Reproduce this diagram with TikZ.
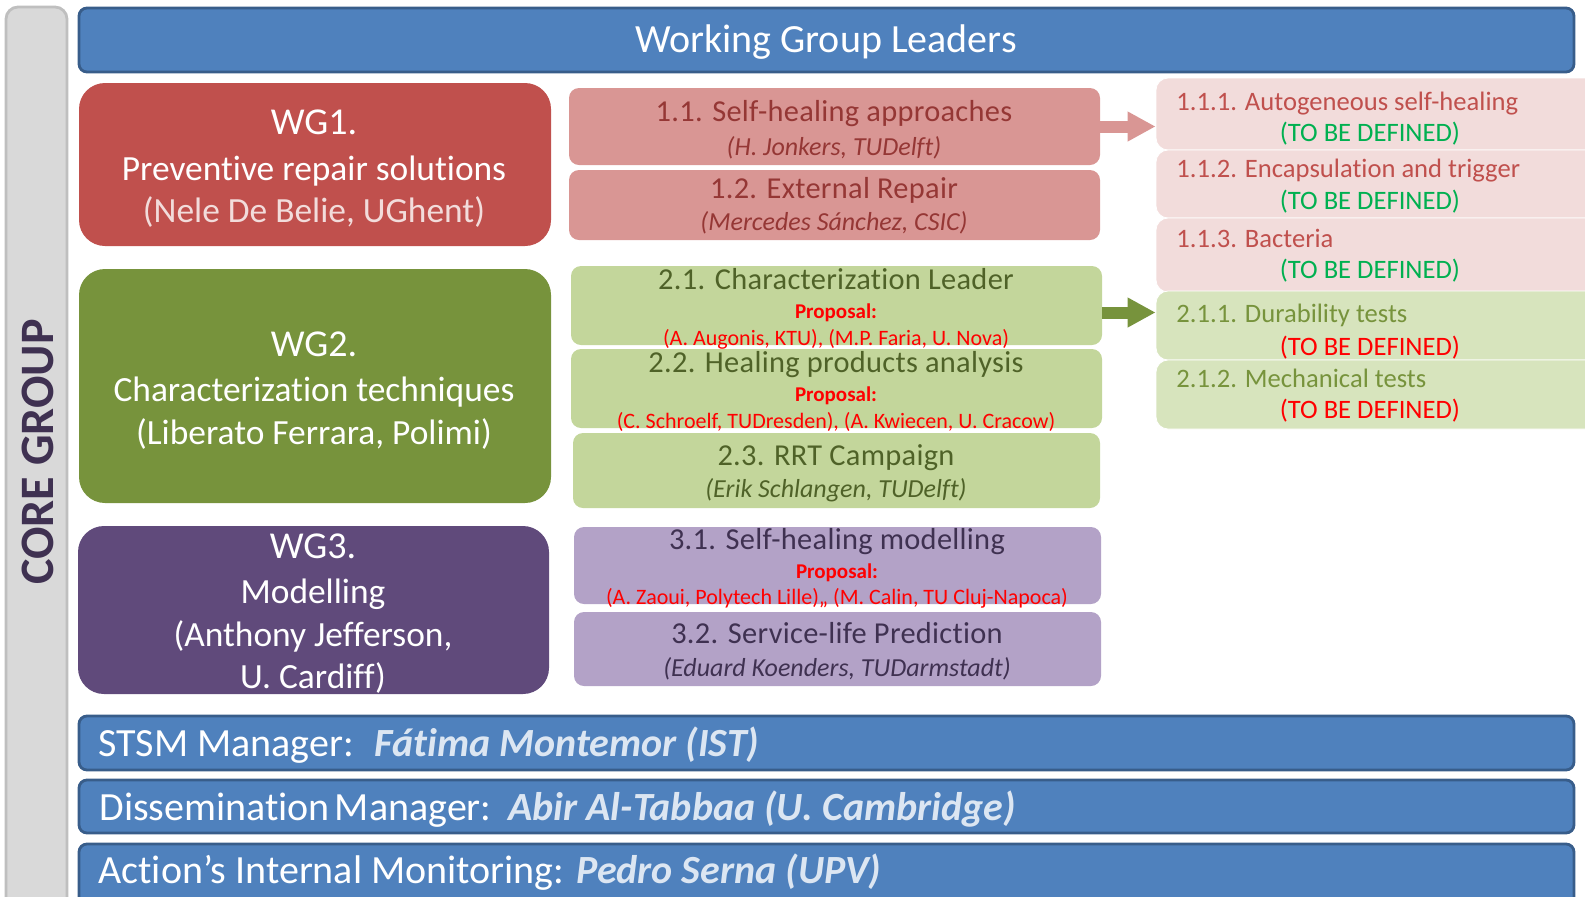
\documentclass[tikz,border=0pt]{standalone}
\usepackage{fontspec}
\setmainfont[Ligatures=NoCommon]{Carlito}
\usetikzlibrary{arrows.meta,fit}
\definecolor{barblue}{HTML}{4F81BD}
\definecolor{barborder}{HTML}{385D8A}
\definecolor{coregrey}{HTML}{D9D9D9}
\definecolor{coreborder}{HTML}{BFBFBF}
\definecolor{corefont}{HTML}{3F3151}
\definecolor{wgred}{HTML}{C0504D}
\definecolor{wggreen}{HTML}{77933C}
\definecolor{wgpurple}{HTML}{604A7B}
\definecolor{subred}{HTML}{D99694}
\definecolor{subgreen}{HTML}{C3D69B}
\definecolor{subpurple}{HTML}{B3A2C7}
\definecolor{txred}{HTML}{953735}
\definecolor{txgreen}{HTML}{4F6228}
\definecolor{txpurple}{HTML}{3F3151}
\definecolor{rpink}{HTML}{F2DCDB}
\definecolor{rgreen}{HTML}{D7E4BD}
\definecolor{rtxred}{HTML}{C0504D}
\definecolor{rtxgreen}{HTML}{77933C}
\definecolor{tbdgreen}{HTML}{00B050}
\definecolor{tbdred}{HTML}{FF0000}
\definecolor{lightname}{HTML}{DCE6F2}
\tikzset{
  bar/.style={draw=barborder, fill=barblue, line width=1.4pt, rounded corners=4pt, inner sep=0pt},
  corebox/.style={draw=coreborder, fill=coregrey, line width=1.4pt, rounded corners=6pt, inner sep=0pt},
  wgbox/.style={rounded corners=13pt, inner sep=0pt},
  subbox/.style={rounded corners=5pt, inner sep=0pt},
  rbox/.style={rounded corners=6pt, inner sep=0pt, draw=white, line width=0.4pt},
  t/.style={inner sep=0pt, anchor=base},
  tw/.style={inner sep=0pt, anchor=base west},
  big/.style={font=\fontsize{20}{24}\selectfont},
  wgtext/.style={font=\fontsize{17.7}{21}\selectfont, text=white},
  wghead/.style={font=\fontsize{19}{22}\selectfont, text=white},
  subtitle/.style={font=\fontsize{15.2}{18}\selectfont\addfontfeature{LetterSpace=1}},
  subname/.style={font=\fontsize{13}{15}\selectfont\itshape},
  prop/.style={font=\fontsize{10.5}{12}\selectfont\bfseries, text=tbdred},
  propnames/.style={font=\fontsize{11}{12}\selectfont, text=tbdred},
  rtext/.style={font=\fontsize{13.3}{15}\selectfont},
  bartext/.style={font=\fontsize{20}{24}\selectfont, text=white},
  barname/.style={font=\fontsize{20}{24}\selectfont\bfseries\itshape, text=lightname},
  blockarrow/.style={line width=6pt, -{Triangle[width=14pt,length=14pt]}},
}
\begin{document}
\begin{tikzpicture}[x=0.5pt,y=-0.5pt]
\useasboundingbox (0,0) rectangle (1585,896);
\clip (0,0) rectangle (1585,896);

% core group
\node[corebox, fit={(6,7)(67,910)}] (core) {};
\node[rotate=90, inner sep=0pt, font=\fontsize{24}{28}\selectfont\bfseries, text=corefont] (coretxt) at (38,452) {CORE GROUP};

% top bar
\node[bar, fit={(79,8)(1574,72)}] (wgl) {};
\node[t, big, text=white] (wgltxt) at (826,52) {Working Group Leaders};

% WG boxes
\node[wgbox, fill=wgred, fit={(79,83)(551,246)}] (wg1) {};
\node[t, wghead] (wg1a) at (314,134) {WG1.};
\node[t, wgtext] (wg1b) at (314,180) {Preventive repair solutions};
\node[t, wgtext, text=rpink] (wg1c) at (314,222) {(Nele De Belie, UGhent)};

\node[wgbox, fill=wggreen, fit={(79,269)(551,503)}] (wg2) {};
\node[t, wghead] (wg2a) at (314,356) {WG2.};
\node[t, wgtext] (wg2b) at (314,401) {Characterization techniques};
\node[t, wgtext] (wg2c) at (314,444) {(Liberato Ferrara, Polimi)};

\node[wgbox, fill=wgpurple, fit={(78,526)(549,694)}] (wg3) {};
\node[t, wghead] (wg3a) at (313,558) {WG3.};
\node[t, wgtext] (wg3b) at (313,603) {Modelling};
\node[t, wgtext] (wg3c) at (313,646) {(Anthony Jefferson,};
\node[t, wgtext] (wg3d) at (313,688) {U. Cardiff)};

% sub boxes WG1
\node[subbox, fill=subred, fit={(569,88)(1100,165)}] (s11) {};
\node[t, subtitle, text=txred] (s11a) at (834,121) {1.1. Self-healing approaches};
\node[t, subname, text=txred] (s11b) at (834,155) {(H. Jonkers, TUDelft)};
\node[subbox, fill=subred, fit={(569,170)(1100,240)}] (s12) {};
\node[t, subtitle, text=txred] (s12a) at (834,198) {1.2. External Repair};
\node[t, subname, text=txred] (s12b) at (834,230) {(Mercedes Sánchez, CSIC)};

% sub boxes WG2
\node[subbox, fill=subgreen, fit={(571,266)(1102,345)}] (s21) {};
\node[t, subtitle, text=txgreen] (s21a) at (836,289) {2.1. Characterization Leader};
\node[t, prop] (s21b) at (836,318) {Proposal:};
\node[t, propnames] (s21c) at (836,345) {(A. Augonis, KTU), (M.P. Faria, U. Nova)};
\node[subbox, fill=subgreen, fit={(571,349)(1102,428)}] (s22) {};
\node[t, subtitle, text=txgreen] (s22a) at (836,372) {2.2. Healing products analysis};
\node[t, prop] (s22b) at (836,401) {Proposal:};
\node[t, propnames] (s22c) at (836,428) {(C. Schroelf, TUDresden), (A. Kwiecen, U. Cracow)};
\node[subbox, fill=subgreen, fit={(573,433)(1100,508)}] (s23) {};
\node[t, subtitle, text=txgreen] (s23a) at (836,465) {2.3. RRT Campaign};
\node[t, subname, text=txgreen] (s23b) at (836,497) {(Erik Schlangen, TUDelft)};

% sub boxes WG3
\node[subbox, fill=subpurple, fit={(574,527)(1101,604)}] (s31) {};
\node[t, subtitle, text=txpurple] (s31a) at (837,549) {3.1. Self-healing modelling};
\node[t, prop] (s31b) at (837,578) {Proposal:};
\node[t, propnames] (s31c) at (837,604) {(A. Zaoui, Polytech Lille),, (M. Calin, TU Cluj-Napoca)};
\node[subbox, fill=subpurple, fit={(574,612)(1101,686)}] (s32) {};
\node[t, subtitle, text=txpurple] (s32a) at (837,643) {3.2. Service-life Prediction};
\node[t, subname, text=txpurple] (s32b) at (837,676) {(Eduard Koenders, TUDarmstadt)};

% right boxes
\node[rbox, fill=rpink, fit={(1156,78)(1600,150)}] (r111) {};
\node[rbox, fill=rpink, fit={(1156,150)(1600,218)}] (r112) {};
\node[rbox, fill=rpink, fit={(1156,218)(1600,292)}] (r113) {};
\node[rbox, fill=rgreen, fit={(1156,291)(1600,360)}] (r211) {};
\node[rbox, fill=rgreen, fit={(1156,360)(1600,429)}] (r212) {};
\node[tw, rtext, text=rtxred] (r111a) at (1176,110) {1.1.1. Autogeneous self-healing};
\node[t, rtext, text=tbdgreen] (r111b) at (1370,141) {(TO BE DEFINED)};
\node[tw, rtext, text=rtxred] (r112a) at (1176,177) {1.1.2. Encapsulation and trigger};
\node[t, rtext, text=tbdgreen] (r112b) at (1370,209) {(TO BE DEFINED)};
\node[tw, rtext, text=rtxred] (r113a) at (1176,247) {1.1.3. Bacteria};
\node[t, rtext, text=tbdgreen] (r113b) at (1370,278) {(TO BE DEFINED)};
\node[tw, rtext, text=rtxgreen] (r211a) at (1176,322) {2.1.1. Durability tests};
\node[t, rtext, text=tbdred] (r211b) at (1370,355) {(TO BE DEFINED)};
\node[tw, rtext, text=rtxgreen] (r212a) at (1176,387) {2.1.2. Mechanical tests};
\node[t, rtext, text=tbdred] (r212b) at (1370,418) {(TO BE DEFINED)};

% arrows
\draw[blockarrow, draw=subred] (s11.east) -- (s11.east -| r111.west);
\draw[blockarrow, draw=wggreen] ([yshift=-3.5pt]s21.east) -- ([yshift=-3.5pt]s21.east -| r211.west);

% bottom bars
\node[bar, fit={(79,716)(1574,770)}] (stsm) {};
\node[tw, bartext] (stsma) at (98,756) {STSM Manager:};
\node[tw, barname] (stsmb) at (374,756) {Fátima Montemor (IST)};
\node[bar, fit={(79,780)(1574,833)}] (diss) {};
\node[tw, bartext] (dissa) at (99,820) {Dissemination\hspace{-2pt} Manager:};
\node[tw, barname] (dissb) at (508,820) {Abir Al-Tabbaa (U. Cambridge)};
\node[bar, fit={(79,844)(1574,905)}] (aim) {};
\node[tw, bartext] (aima) at (98,883) {Action’s Internal Monitoring:};
\node[tw, barname] (aimb) at (576,883) {Pedro Serna (UPV)};
\end{tikzpicture}
\end{document}
